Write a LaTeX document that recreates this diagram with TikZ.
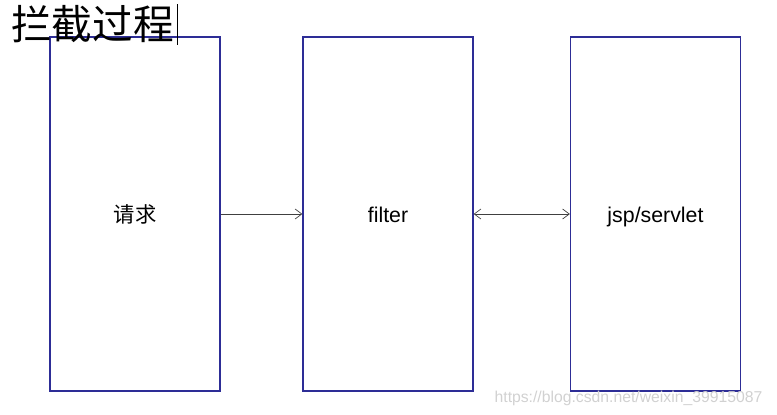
\documentclass[tikz,border=0pt]{standalone}
\usepackage{fontspec}
\usetikzlibrary{arrows.meta}
\setmainfont{Liberation Sans}
\newfontfamily\cjk{Noto Sans CJK SC}
\definecolor{boxline}{RGB}{45,45,150}
\tikzset{
  stage/.style={draw=boxline, line width=1pt, minimum width=127.5pt,
    minimum height=265.5pt, inner sep=0pt, text height=13pt, text depth=1pt,
    font=\fontsize{16}{19}\selectfont},
  flow/.style={draw=black!75, line width=0.5pt,
    arrows={-Straight Barb[length=5pt, width=7.5pt]}}
}
\begin{document}
\begin{tikzpicture}[x=0.75pt, y=-0.75pt]
            \useasboundingbox (0,0) rectangle (777,414);
            \node[stage] (req) at (135,214) {\cjk 请求};
            \node[stage] (filter) at (388,214) {filter};
            \node[stage] (jsp) at (655.5,214) {jsp/servlet};
            \node[anchor=west, inner sep=0pt, font=\fontsize{30.5}{34}\selectfont\cjk] (title) at (11,24) {拦截过程};
            \coordinate (curtop) at (177,4);
            \coordinate (curbot) at (177,45);
            \draw[line width=0.6pt] (curtop) -- (curbot);
            \draw[flow] (req) -- (filter);
            \draw[flow, arrows={Straight Barb[length=5pt, width=7.5pt]-Straight Barb[length=5pt, width=7.5pt]}] (filter) -- (jsp);
            \node[anchor=east, text=black!18, font=\fontsize{11.8}{14}\selectfont] (mark) at (767,398) {https://blog.csdn.net/weixin\_39915087};
        \end{tikzpicture}
\end{document}
